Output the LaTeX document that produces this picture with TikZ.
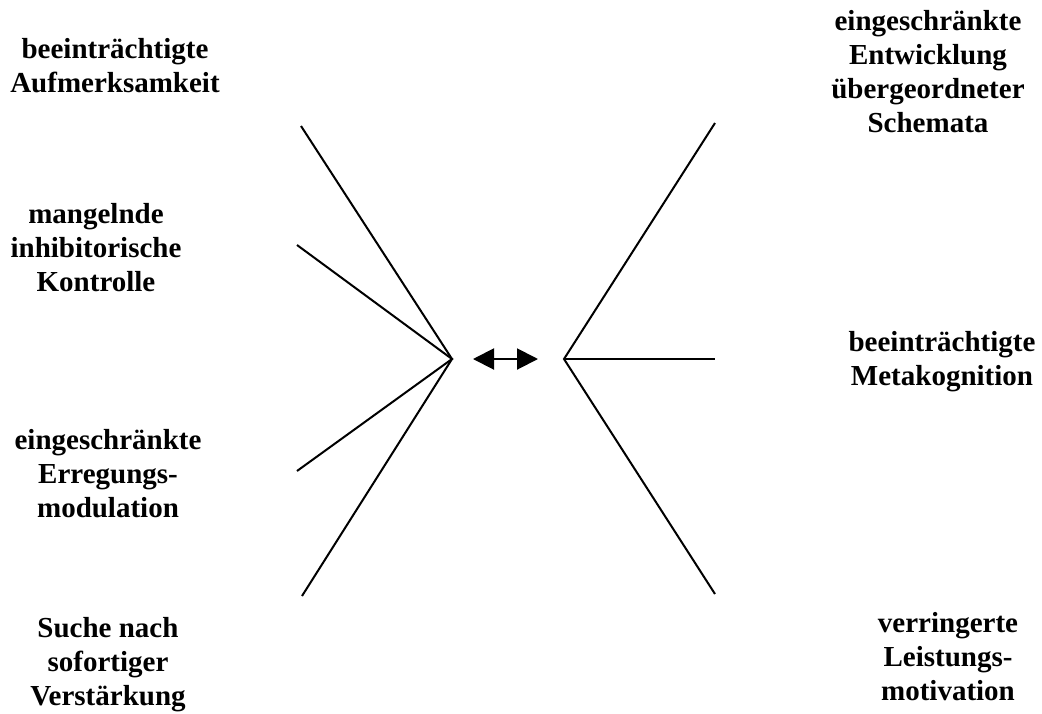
\documentclass[tikz,border=0pt]{standalone}
\usepackage{fontspec}
\setmainfont{Liberation Serif}
\usetikzlibrary{arrows.meta}
\begin{document}
\begin{tikzpicture}[x=1pt,y=-1pt,
  lbl/.style={align=center,anchor=base,inner sep=0pt,font=\fontsize{29}{34}\selectfont\bfseries},
  ray/.style={line width=2pt,black}]
\useasboundingbox (0,0) rectangle (1042,713);
% labels (anchored at last-line baseline)
\node[lbl] (a) at (115,92) {beeinträchtigte\\Aufmerksamkeit};
\node[lbl] (b) at (96,291) {mangelnde\\inhibitorische\\Kontrolle};
\node[lbl] (c) at (108,517) {eingeschränkte\\Erregungs-\\modulation};
\node[lbl] (d) at (108,705) {Suche nach\\sofortiger\\Verstärkung};
\node[lbl] (e) at (928,132) {eingeschränkte\\Entwicklung\\übergeordneter\\Schemata};
\node[lbl] (f) at (942,385) {beeinträchtigte\\Metakognition};
\node[lbl] (g) at (948,700) {verringerte\\Leistungs-\\motivation};
% ray ends
\coordinate (L) at (452,359);
\coordinate (R) at (564,359);
\coordinate (l1) at (301,126);
\coordinate (l2) at (297,245);
\coordinate (l3) at (297,471);
\coordinate (l4) at (302,596);
\coordinate (r1) at (715,123);
\coordinate (r2) at (715,359);
\coordinate (r3) at (715,594);
\draw[ray] (l1) -- (L) -- (l4);
\draw[ray] (l2) -- (L) -- (l3);
\draw[ray] (r1) -- (R) -- (r3);
\draw[ray] (R) -- (r2);
\coordinate (A1) at (473,359);
\coordinate (A2) at (538,359);
\draw[line width=2pt,{Triangle[length=21pt,width=21pt]}-{Triangle[length=21pt,width=21pt]}] (A1) -- (A2);
\end{tikzpicture}
\end{document}
